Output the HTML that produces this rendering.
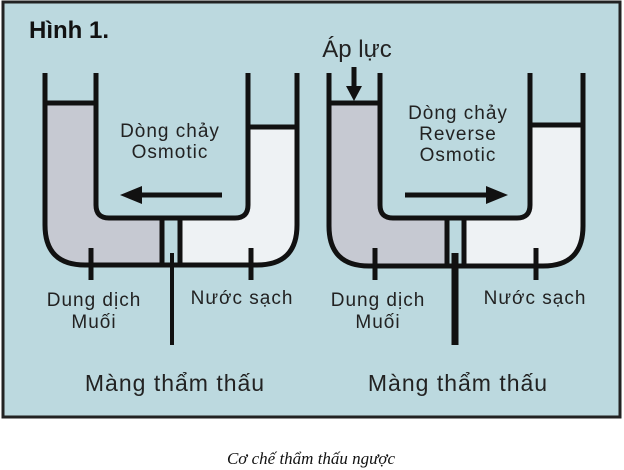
<!DOCTYPE html>
<html><head><meta charset="utf-8"><style>
html,body{margin:0;padding:0;background:#fff;width:624px;height:470px;overflow:hidden}
svg{display:block}
</style></head><body>
<svg width="624" height="470" viewBox="0 0 624 470" xmlns="http://www.w3.org/2000/svg">
<rect x="3" y="2" width="617" height="415" fill="#bcd9df" stroke="#222" stroke-width="3"/>
<text x="29" y="38" font-family="Liberation Sans, sans-serif" font-weight="bold" font-size="24" fill="#111">Hình 1.</text>

<!-- LEFT DIAGRAM -->
<path d="M45 103 L96 103 L96 205 Q96 218 109 218 L162 218 L162 265 L85 265 Q45 265 45 225 Z" fill="#c6c9d2"/>
<path d="M180 218 L235 218 Q248 218 248 205 L248 127 L297 127 L297 225 Q297 265 257 265 L180 265 Z" fill="#eef2f4"/>
<g fill="none" stroke="#111" stroke-width="5">
<path d="M45 73 L45 225 Q45 265 85 265 L257 265 Q297 265 297 225 L297 73"/>
<path d="M96 73 L96 205 Q96 218 109 218 L235 218 Q248 218 248 205 L248 73"/>
<path d="M45 103 L96 103 M248 127 L297 127"/>
<path d="M162 218 L162 265 M180 218 L180 265"/>
<path d="M91 248 L91 280 M251 248 L251 280"/>
<path d="M172 253 L172 345" stroke-width="4"/>
<path d="M222 195 L140 195"/>
</g>
<polygon points="120,195 142,186 142,204" fill="#111"/>
<g font-family="Liberation Sans, sans-serif" font-size="19" fill="#222" text-anchor="middle" letter-spacing="1">
<text x="170" y="137">Dòng chảy</text>
<text x="170" y="158">Osmotic</text>
<text x="94" y="306">Dung dịch</text>
<text x="94" y="328">Muối</text>
<text x="242" y="304">Nước sạch</text>
<text x="175" y="391" font-size="23">Màng thẩm thấu</text>
</g>

<!-- RIGHT DIAGRAM -->
<path d="M329 103 L380 103 L380 205 Q380 218 393 218 L447 218 L447 266 L369 266 Q329 266 329 226 Z" fill="#c6c9d2"/>
<path d="M464 218 L517 218 Q530 218 530 205 L530 125 L583 125 L583 226 Q583 266 543 266 L464 266 Z" fill="#eef2f4"/>
<g fill="none" stroke="#111" stroke-width="5">
<path d="M329 73 L329 226 Q329 266 369 266 L543 266 Q583 266 583 226 L583 73"/>
<path d="M380 73 L380 205 Q380 218 393 218 L517 218 Q530 218 530 205 L530 73"/>
<path d="M329 103 L380 103 M530 125 L583 125"/>
<path d="M447 218 L447 266 M464 218 L464 266"/>
<path d="M375 248 L375 280 M536 248 L536 280" />
<path d="M455 253 L455 345" stroke-width="7"/>
<path d="M405 195 L488 195"/>
<path d="M354 67 L354 88"/>
</g>
<polygon points="508,195 486,186 486,204" fill="#111"/>
<polygon points="354,101 346,86 362,86" fill="#111"/>
<g font-family="Liberation Sans, sans-serif" font-size="19" fill="#222" text-anchor="middle" letter-spacing="1">
<text x="357" y="57" font-size="24" letter-spacing="0">Áp lực</text>
<text x="458" y="119">Dòng chảy</text>
<text x="458" y="140">Reverse</text>
<text x="458" y="161">Osmotic</text>
<text x="378" y="306">Dung dịch</text>
<text x="378" y="328">Muối</text>
<text x="535" y="304">Nước sạch</text>
<text x="458" y="391" font-size="23">Màng thẩm thấu</text>
</g>

<text x="311" y="464" font-family="Liberation Serif, serif" font-style="italic" font-size="17" fill="#111" text-anchor="middle">Cơ chế thẩm thấu ngược</text>
</svg>
</body></html>
